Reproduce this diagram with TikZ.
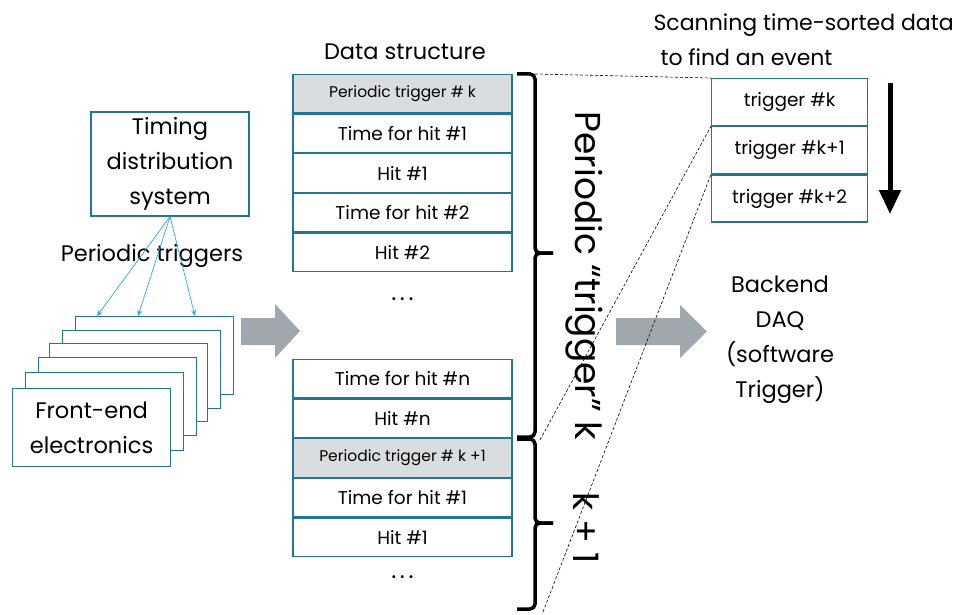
\documentclass[tikz,border=0pt]{standalone}
\usepackage{fontspec}
\setmainfont{Poppins}
\usetikzlibrary{arrows.meta}
\definecolor{boxc}{RGB}{32,118,148}
\definecolor{trig}{RGB}{218,221,224}
\definecolor{bluea}{RGB}{41,168,224}
\definecolor{grayarr}{RGB}{160,168,174}
\newcommand{\mydots}{.\hspace{3.5pt}.\hspace{3.5pt}.}
\begin{document}
\begin{tikzpicture}[x=1pt,y=-1pt,
  box/.style={draw=boxc,line width=1.2pt,fill=white,inner sep=0pt},
  rowbox/.style={box,minimum width=219pt,minimum height=38.4pt,font=\fontsize{18.5}{20}\selectfont},
  trigrow/.style={rowbox,fill=trig,font=\fontsize{15.5}{17}\selectfont},
  rbox/.style={box,minimum width=156pt,minimum height=47pt,font=\fontsize{18.5}{20}\selectfont},
  fe/.style={box,minimum width=158pt,minimum height=78pt,anchor=north west},
  brace/.style={line width=3.5pt,rounded corners=5pt},
  dashline/.style={line width=0.6pt,dash pattern=on 3pt off 2pt},
  dotst/.style={font=\fontsize{24}{26}\selectfont},
  bigt/.style={font=\fontsize{22.5}{35}\selectfont,align=center}]
\useasboundingbox (0,0) rectangle (960,615);
% timing
\node[box,minimum width=158pt,minimum height=104pt,bigt] (timing) at (170,164) {Timing\\distribution\\system};
\node[bigt] (ptrig) at (152,256) {Periodic triggers};
% front-end stack
\node[fe] (fe6) at (75,316) {};
\node[fe] (fe5) at (62,330) {};
\node[fe] (fe4) at (49,343) {};
\node[fe] (fe3) at (38,357) {};
\node[fe] (fe2) at (25,372) {};
\node[fe] (fe1) at (12,388) {};
\node[bigt] (fetext) at (fe1.center) {Front-end\\electronics};
\coordinate (t1) at (97,316);
\coordinate (t2) at (138,316);
\coordinate (t3) at (195,316);
\foreach \t in {t1,t2,t3}
  \draw[bluea,line width=0.7pt,-{Stealth[length=6pt,width=5pt]}] (timing.south) -- (\t);
% gray arrows
\fill[grayarr] (241,318) -- (275,318) -- (275,304) -- (300,331) -- (275,358) -- (275,345) -- (241,345) -- cycle;
\fill[grayarr] (616,318) -- (680,318) -- (680,305) -- (707,331.5) -- (680,358) -- (680,345) -- (616,345) -- cycle;
% data structure
\node[bigt] (dstitle) at (405,52) {Data structure};
\node[trigrow,anchor=north] (a1) at (402.5,74) {Periodic trigger \# k};
\node[rowbox,anchor=north] (a2) at (a1.south) {Time for hit \#1};
\node[rowbox,anchor=north] (a3) at (a2.south) {Hit \#1};
\node[rowbox,anchor=north] (a4) at (a3.south) {Time for hit \#2};
\node[rowbox,anchor=north] (a5) at (a4.south) {Hit \#2};
\node[dotst] (dots1) at (402.5,299) {\mydots};
\node[rowbox,anchor=north] (b1) at (402.5,359) {Time for hit \#n};
\node[rowbox,anchor=north] (b2) at (b1.south) {Hit \#n};
\node[trigrow,anchor=north] (b3) at (b2.south) {Periodic trigger \# k +1};
\node[rowbox,anchor=north] (b4) at (b3.south) {Time for hit \#1};
\node[rowbox,anchor=north] (b5) at (b4.south) {Hit \#1};
\node[dotst] (dots2) at (402.5,577) {\mydots};
% braces
\coordinate (br1t) at (517,74);
\coordinate (br1b) at (517,437);
\coordinate (br2b) at (517,609);
\draw[brace] (br1t) -- (535,74) -- (535,253) -- (553,253);
\draw[brace] (553,253) -- (535,253) -- (535,437) -- (br1b);
\draw[brace] (517,439) -- (535,439) -- (535,523) -- (553,523);
\draw[brace] (553,523) -- (535,523) -- (535,609) -- (br2b);
\node[rotate=-90,font=\fontsize{36}{38}\selectfont] (plabel) at (584,276) {Periodic “trigger” k};
\node[rotate=-90,font=\fontsize{35}{38}\selectfont] (k1label) at (586,528) {k + 1};
% right box
\node[font=\fontsize{22}{35}\selectfont,align=left,anchor=north west] (scan) at (650,10) {Scanning time-sorted data\\\hspace*{7pt}to find an event};
\node[rbox,anchor=north west] (c1) at (711,78) {trigger \#k};
\node[rbox,anchor=north] (c2) at (c1.south) {trigger \#k+1};
\node[rbox,anchor=north] (c3) at (c2.south) {trigger \#k+2};
\coordinate (ds) at (890,83);
\coordinate (de) at (890,214);
\draw[line width=5pt,-{Triangle[length=24pt,width=21pt]}] (ds) -- (de);
% dashed
\coordinate (d1) at (535,74);
\coordinate (d2) at (540,440);
\coordinate (d3) at (543,612);
\draw[dashline] (d1) -- (c1.north west);
\draw[dashline] (d2) -- (c2.north west);
\draw[dashline] (d3) -- (c3.north west);
% backend
\node[bigt] (backend) at (780,340) {Backend\\DAQ\\(software\\Trigger)};
\end{tikzpicture}
\end{document}
